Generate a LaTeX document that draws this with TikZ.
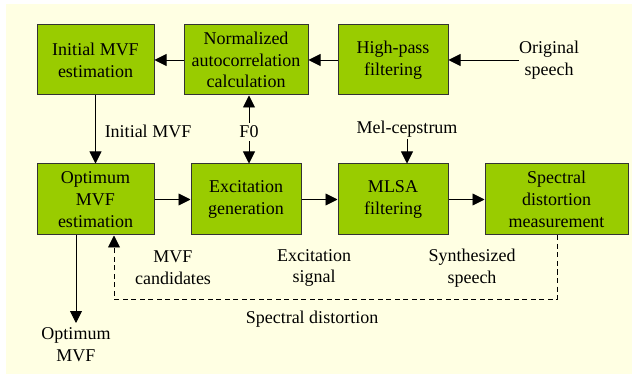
\documentclass[tikz,border=0pt]{standalone}
\usepackage{fontspec}
\setmainfont{Liberation Serif}
\usetikzlibrary{arrows.meta}
\definecolor{bgyellow}{HTML}{FFFFE3}
\definecolor{boxgreen}{HTML}{99CC00}
\definecolor{edgegray}{HTML}{333333}
\newcommand{\labfont}{\fontsize{18}{21.7}\selectfont}
\begin{document}
\begin{tikzpicture}[x=1pt,y=-1pt,
  blockbox/.style={draw=edgegray, line width=1pt, fill=boxgreen, inner sep=0pt,
    align=center, font=\labfont},
  lbl/.style={inner sep=0pt, align=center, font=\labfont},
  arr/.style={line width=0.9pt, -{Triangle[length=12pt,width=12pt]}},
  dasharr/.style={arr, dash pattern=on 5pt off 3.5pt}]
  % canvas
  \useasboundingbox (0,0) rectangle (632,374);
  \fill[white] (0,0) rectangle (632,374);
  \fill[bgyellow] (6,4) rectangle (632,374);

  % processing blocks
  \node[blockbox, minimum width=117pt, minimum height=70pt] (init) at (95.5,60) {Initial MVF\\estimation};
  \node[blockbox, minimum width=124pt, minimum height=70pt] (norm) at (246,60) {Normalized\\autocorrelation\\calculation};
  \node[blockbox, minimum width=110pt, minimum height=70pt] (hp) at (393,60) {High-pass\\filtering};
  \node[blockbox, minimum width=117pt, minimum height=71pt] (opt) at (95.5,199.5) {Optimum\\MVF\\estimation};
  \node[blockbox, minimum width=110pt, minimum height=71pt] (exc) at (246,199.5) {Excitation\\generation};
  \node[blockbox, minimum width=110pt, minimum height=71pt] (mlsa) at (393,199.5) {MLSA\\filtering};
  \node[blockbox, minimum width=143pt, minimum height=71pt] (spec) at (556.5,199.5) {Spectral\\distortion\\measurement};

  % signal labels
  \node[lbl, anchor=west] (orig) at (519,60) {Original\\speech};
  \node[lbl] (f0) at (249,132) {F0};
  \node[lbl] (initlab) at (148,131) {Initial MVF};
  \node[lbl] (mel) at (407,129) {Mel-cepstrum};
  \node[lbl] (cand) at (173,268) {MVF\\candidates};
  \node[lbl] (excsig) at (314,268) {Excitation\\signal};
  \node[lbl] (synth) at (472,268) {Synthesized\\speech};
  \node[lbl] (distlab) at (312,319) {Spectral distortion};
  \node[lbl] (optout) at (76,345) {Optimum\\MVF};
  \coordinate (outtip) at (76,323);
  \coordinate (fbR) at (557,299);
  \coordinate (fbL) at (114,299);

  % connectors
  \draw[arr] (orig.west) -- (hp.east);
  \draw[arr] (hp.west) -- (norm.east);
  \draw[arr] (norm.west) -- (init.east);
  \draw[arr] (init.south) -- (opt.north);
  \draw[arr] (f0.north) ++(0,-3) -- (f0.north |- norm.south);
  \draw[arr] (f0.south) ++(0,3) -- (f0.south |- exc.north);
  \draw[arr] (mel.south) ++(0,2) -- (mel.south |- mlsa.north);
  \draw[arr] (opt.east) -- (exc.west);
  \draw[arr] (exc.east) -- (mlsa.west);
  \draw[arr] (mlsa.east) -- (spec.west);
  \draw[arr] (outtip |- opt.south) -- (outtip);
  \draw[dasharr] (fbR |- spec.south) -- (fbR) -- (fbL) -- (fbL |- opt.south);
\end{tikzpicture}
\end{document}
